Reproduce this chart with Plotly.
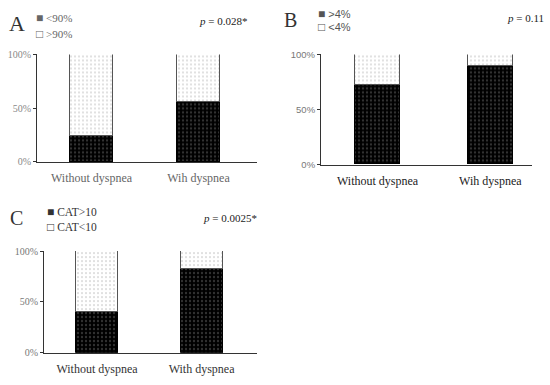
import plotly.graph_objects as go

# ---- data ----
cats_A = ["Without dyspnea", "Wih dyspnea"]
low_A = [24, 55]          # <90%
high_A = [76, 45]         # >90%
legend_A = ["<90%", ">90%"]
p_A = "0.028*"

cats_B = ["Without dyspnea", "Wih dyspnea"]
gt_B = [72, 89]           # >4%
lt_B = [28, 11]           # <4%
legend_B = [">4%", "<4%"]
p_B = "0.11"

cats_C = ["Without dyspnea", "With dyspnea"]
gt_C = [40, 82]           # CAT>10
lt_C = [60, 18]           # CAT<10
legend_C = ["CAT>10", "CAT<10"]
p_C = "0.0025*"

ytick_vals = [0, 50, 100]
ytick_text = ["0%", "50%", "100%"]

SERIF = "Liberation Serif"
SANS = "Liberation Sans"

dark_pat = dict(shape=".", fgcolor="#6a6a6a", size=4, solidity=0.25, fillmode="overlay")
light_pat = dict(shape=".", fgcolor="#b0b0b0", size=4, solidity=0.2, fillmode="overlay")

fig = go.Figure()

def add_panel(xa, ya, cats, dark, light, width):
    fig.add_trace(go.Bar(x=cats, y=dark, xaxis=xa, yaxis=ya, width=width,
                         marker=dict(color="black", pattern=dark_pat,
                                     line=dict(color="black", width=1)),
                         showlegend=False, hoverinfo="skip"))
    fig.add_trace(go.Bar(x=cats, y=light, xaxis=xa, yaxis=ya, width=width,
                         marker=dict(color="white", pattern=light_pat,
                                     line=dict(color="#555", width=1)),
                         showlegend=False, hoverinfo="skip"))

add_panel("x", "y", cats_A, low_A, high_A, 0.4)
add_panel("x2", "y2", cats_B, gt_B, lt_B, 0.4)
add_panel("x3", "y3", cats_C, gt_C, lt_C, 0.4)

def yaxis(domain, font):
    return dict(domain=domain, range=[0, 100], tickvals=ytick_vals, ticktext=ytick_text,
                showline=True, linecolor="#333", linewidth=1, ticks="outside",
                ticklen=3, tickcolor="#333", showgrid=False, zeroline=False,
                tickfont=font, fixedrange=True)

def xaxis(domain, rng, anchor, font, standoff):
    return dict(domain=domain, range=rng, anchor=anchor, showline=True, linecolor="#333",
                linewidth=1, ticks="", showgrid=False, zeroline=False, tickfont=font,
                ticklabelstandoff=standoff, fixedrange=True)

fig.update_layout(
    width=550, height=385, margin=dict(l=0, r=0, t=0, b=0),
    paper_bgcolor="white", plot_bgcolor="white", barmode="stack",
    bargap=0,
    xaxis=xaxis([0.0673, 0.4673], [-0.51, 1.547], "y", dict(family=SERIF, size=12, color="#666"), 5),
    yaxis=yaxis([0.5818, 0.8701], dict(family=SERIF, size=10, color="#888")),
    xaxis2=xaxis([0.5836, 0.9673], [-0.502, 1.37], "y2", dict(family=SERIF, size=12, color="#222"), 5),
    yaxis2=dict(yaxis([0.574, 0.8701], dict(family=SANS, size=9.5, color="#777")), anchor="x2"),
    xaxis3=xaxis([0.08, 0.4673], [-0.507, 1.53], "y3", dict(family=SERIF, size=12, color="#333"), 5),
    yaxis3=dict(yaxis([0.0701, 0.3429], dict(family=SERIF, size=10, color="#777")), anchor="x3"),
)

ann = []
def txt(x, y, text, size, family, color="#222", xanchor="left"):
    ann.append(dict(x=x / 550, y=1 - y / 385, xref="paper", yref="paper", text=text,
                    showarrow=False, xanchor=xanchor, yanchor="middle",
                    font=dict(family=family, size=size, color=color)))

def sq(filled):
    return "<span style='font-size:12px'>" + ("■" if filled else "□") + "</span>"

# Panel letters
txt(7, 18, "A", 22, SERIF, "#333")
txt(282, 14, "B", 20, SERIF, "#333")
txt(8, 219, "C", 20, SERIF, "#333")

# Legends
txt(34, 12, sq(True) + " " + legend_A[0], 11, SERIF, "#666")
txt(34, 29, sq(False) + " " + legend_A[1], 11, SERIF, "#666")
txt(316, 8, sq(True) + " " + legend_B[0], 11, SANS, "#555")
txt(316, 22, sq(False) + " " + legend_B[1], 11, SANS, "#555")
txt(45, 213, sq(True) + " " + legend_C[0], 11.5, SERIF, "#333")
txt(45, 228, sq(False) + " " + legend_C[1], 11.5, SERIF, "#333")

# p-values
txt(249, 15, "<i>p</i> = " + p_A, 11, SERIF, "#222", "right")
txt(546, 12, "<i>p</i> = " + p_B, 11, SERIF, "#222", "right")
txt(259, 219, "<i>p</i> = " + p_C, 11, SERIF, "#222", "right")

fig.update_layout(annotations=ann)
fig.write_html("out.html", config={"displayModeBar": False},
               post_script="document.body.style.margin='0';document.body.style.padding='0';")
